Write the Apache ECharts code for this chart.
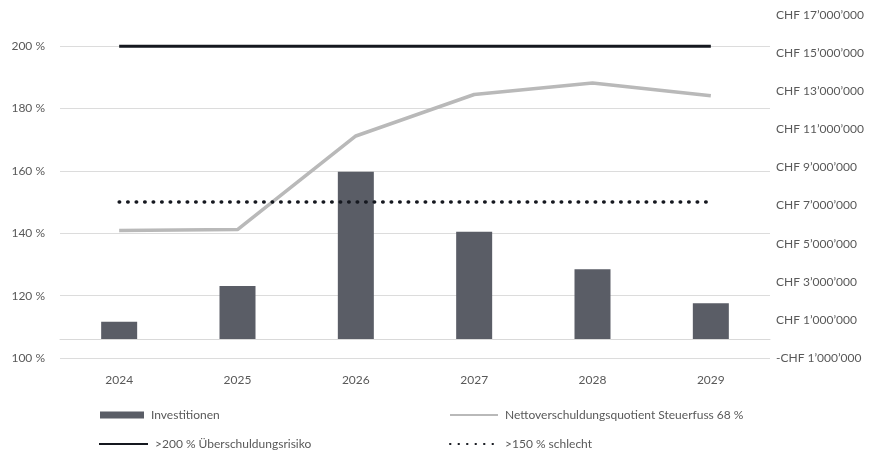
<!DOCTYPE html>
<html><head><meta charset="utf-8">
<script src="https://cdn.jsdelivr.net/npm/echarts@6/dist/echarts.min.js"></script>
<style>html,body{margin:0;padding:0;background:#fff}#c{width:890px;height:456px}</style>
</head><body><div id="c"></div>
<script>
const years = ['2024', '2025', '2026', '2027', '2028', '2029'];
const investitionen = [900000, 2780000, 8780000, 5630000, 3660000, 1870000];
const quotient = [140.9, 141.2, 171.2, 184.5, 188.2, 184.1];
const risiko = [200, 200, 200, 200, 200, 200];
const schlecht = [150, 150, 150, 150, 150, 150];
const pctMin = 100, pctMax = 210, pctStep = 20;
const chfMin = -1000000, chfMax = 17000000, chfStep = 2000000;
const names = ['Investitionen', 'Nettoverschuldungsquotient Steuerfuss 68 %', '>200 % Überschuldungsrisiko', '>150 % schlecht'];

const FONT = 'Lato';
const TXT = '#595959';
function chf(v) {
  const s = Math.abs(Math.round(v)).toString().replace(/\B(?=(\d{3})+(?!\d))/g, '\u2019');
  return (v < 0 ? '-' : '') + 'CHF ' + s;
}
const chart = echarts.init(document.getElementById('c'));
const legendBase = { orient: 'horizontal', padding: 0, textStyle: { color: TXT, fontFamily: FONT, fontSize: 12, padding: [0, 0, 0, 2] }, selectedMode: false };
const lineLegend = { itemStyle: { opacity: 0 } };
chart.setOption({
  animation: false,
  grid: { left: 60, right: 120, top: 15, bottom: 98 },
  xAxis: {
    type: 'category', data: years,
    axisLine: { lineStyle: { color: '#d9d9d9', width: 1 } },
    axisTick: { show: false },
    axisLabel: { color: TXT, fontFamily: FONT, fontSize: 12, margin: 16 }
  },
  yAxis: [
    {
      type: 'value', min: pctMin, max: pctMax, interval: pctStep, position: 'left',
      axisLine: { show: false }, axisTick: { show: false },
      axisLabel: { color: TXT, fontFamily: FONT, fontSize: 12, margin: 15, showMaxLabel: false, formatter: v => v + ' %' },
      splitLine: { lineStyle: { color: '#dcdcdc', width: 1 }, showMaxLine: false }
    },
    {
      type: 'value', min: chfMin, max: chfMax, interval: chfStep, position: 'right',
      axisLine: { show: false }, axisTick: { show: false },
      axisLabel: { color: TXT, fontFamily: FONT, fontSize: 12, margin: 6, formatter: chf },
      splitLine: { show: false }
    }
  ],
  legend: [
    Object.assign({}, legendBase, { data: [names[0]], left: 100, top: 409, itemWidth: 44, itemHeight: 7, icon: 'rect' }),
    Object.assign({}, legendBase, lineLegend, { data: [names[1]], left: 449, top: 409, itemWidth: 48, itemHeight: 7 }),
    Object.assign({}, legendBase, lineLegend, { data: [names[2]], left: 98, top: 438, itemWidth: 49, itemHeight: 7 }),
    Object.assign({}, legendBase, lineLegend, { data: [names[3]], left: 449, top: 438, itemWidth: 48, itemHeight: 7 })
  ],
  series: [
    {
      name: names[0], type: 'bar', yAxisIndex: 1, data: investitionen, barWidth: 36,
      itemStyle: { color: '#5a5d66' }
    },
    {
      name: names[1], type: 'line', yAxisIndex: 0, data: quotient, symbol: 'none',
      lineStyle: { color: '#b9b9b9', width: 3.5 }, itemStyle: { color: '#b9b9b9' }
    },
    {
      name: names[2], type: 'line', yAxisIndex: 0, data: risiko, symbol: 'none',
      lineStyle: { color: '#15181f', width: 3 }, itemStyle: { color: '#15181f' }
    },
    {
      name: names[3], type: 'line', yAxisIndex: 0, data: schlecht, symbol: 'none',
      lineStyle: { color: '#15181f', width: 3.5, type: [0.5, 8], cap: 'round' }, itemStyle: { color: '#15181f' }
    }
  ]
});
</script></body></html>
